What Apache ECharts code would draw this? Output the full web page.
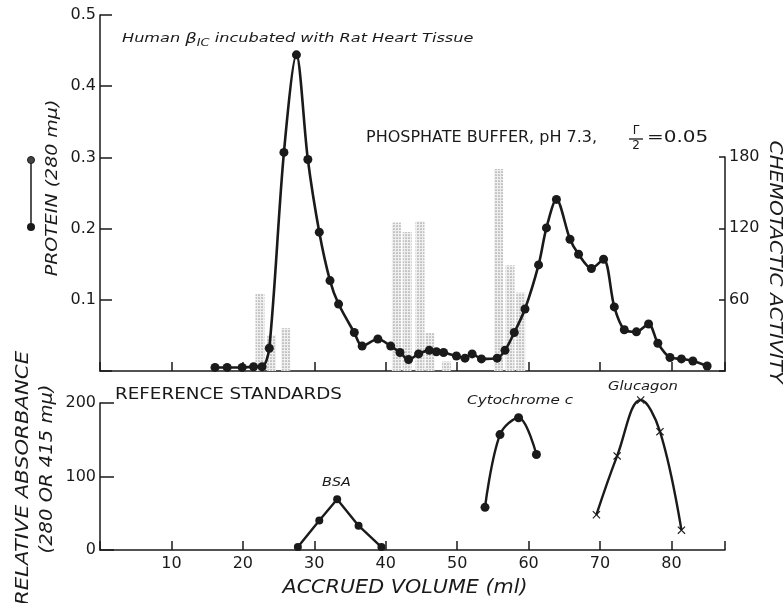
<!DOCTYPE html>
<html>
<head>
	<meta charset="utf-8">
	<title>Chemotactic activity - phosphate buffer</title>
	<script src="https://cdn.jsdelivr.net/npm/echarts@6.0.0/dist/echarts.min.js"></script>
	<style type="text/css">
		* {
			padding: 0;
			margin: 0;
		}
		#main {
			width: 784px;
			height: 603px;
			background: #fff;
		}
	</style>
</head>
<body>
	<div id="main"></div>
	<script type="text/javascript">
		// protein (280 mu) curve, top panel
		var proteinVol = [16.1, 17.8, 19.9, 21.5, 22.7, 23.7, 25.75, 27.5, 29.1, 30.7, 32.2, 33.4, 35.6, 36.7, 38.9, 40.7,
			42.0, 43.2, 44.6, 46.1, 47.1, 48.1, 49.9, 51.1, 52.1, 53.4, 55.6, 56.7, 58.0, 59.5, 61.4, 62.5,
			63.9, 65.8, 67.0, 68.8, 70.5, 72.0, 73.4, 75.1, 76.8, 78.1, 79.8, 81.4, 83.0, 85.0];
		var proteinOD = [0.005, 0.005, 0.005, 0.006, 0.006, 0.032, 0.307, 0.444, 0.297, 0.195, 0.127, 0.094, 0.054, 0.035, 0.045, 0.035,
			0.026, 0.016, 0.024, 0.029, 0.027, 0.026, 0.021, 0.018, 0.024, 0.017, 0.018, 0.029, 0.054, 0.087, 0.149, 0.201,
			0.241, 0.185, 0.164, 0.144, 0.157, 0.090, 0.058, 0.055, 0.066, 0.039, 0.019, 0.017, 0.014, 0.007];

		// chemotactic activity bars
		var activityVol = [22.4, 24.0, 26.0, 41.5, 43.0, 44.8, 46.2, 48.5, 55.8, 57.4, 58.9];
		var activityVal = [65, 30, 36, 125, 117, 126, 32, 8, 170, 89, 66];

		// reference standards, bottom panel
		var bsaVol = [27.7, 30.7, 33.2, 36.2, 39.4];
		var bsaAbs = [4, 40, 69, 33, 4];
		var cytoVol = [53.9, 56.0, 58.6, 61.1];
		var cytoAbs = [58, 157, 180, 130];
		var glucVol = [69.5, 72.4, 75.7, 78.4, 81.4];
		var glucAbs = [48, 128, 204, 161, 27];

		var ink = '#1a1a1a';
		var font = 'DejaVu Sans';

		function pairs(xs, ys) {
			return xs.map(function (x, i) { return [x, ys[i]]; });
		}

		function xAxisCfg(gridIndex, showLabels) {
			return {
				type: 'value', gridIndex: gridIndex, min: 0, max: 87.5, interval: 10,
				axisLine: { show: true, onZero: false, lineStyle: { color: ink, width: 1.5 } },
				axisTick: { show: true, inside: true, length: 9, lineStyle: { color: ink, width: 1.5 } },
				axisLabel: {
					show: showLabels, margin: 6, color: ink, fontFamily: font, fontSize: 16,
					formatter: function (v) { return (v > 0 && v % 10 === 0) ? String(v) : ''; }
				},
				splitLine: { show: false }
			};
		}

		function yAxisCfg(gridIndex, min, max, interval, tickLen, fmt) {
			return {
				type: 'value', gridIndex: gridIndex, min: min, max: max, interval: interval,
				axisLine: { show: true, onZero: false, lineStyle: { color: ink, width: 1.5 } },
				axisTick: { show: true, inside: true, length: tickLen, lineStyle: { color: ink, width: 1.5 } },
				axisLabel: { color: ink, fontFamily: font, fontSize: 16, margin: 4, formatter: fmt },
				splitLine: { show: false }
			};
		}

		// text placed by its left/centre point, stretched to the lettering's width
		function label(text, x, y, size, sx, opts) {
			opts = opts || {};
			return {
				type: 'text', x: x, y: y, scaleX: sx, rotation: opts.rotation || 0,
				style: {
					text: text, fill: ink,
					font: (opts.italic ? 'italic ' : '') + size + 'px "DejaVu Sans"',
					textAlign: opts.align || 'left', textVerticalAlign: 'middle'
				}
			};
		}

		var xMark = 'path://M0,1L1,0L5,4L9,0L10,1L6,5L10,9L9,10L5,6L1,10L0,9L4,5Z';

		var chart = echarts.init(document.getElementById('main'));
		chart.setOption({
			animation: false,
			backgroundColor: '#fff',
			grid: [
				{ left: 100, top: 15, width: 625, height: 356, outerBoundsMode: 'none' },
				{ left: 100, top: 157, width: 625, height: 214, outerBoundsMode: 'none' },
				{ left: 100, top: 403, width: 625, height: 147, outerBoundsMode: 'none' }
			],
			xAxis: [
				xAxisCfg(0, false),
				{ type: 'value', gridIndex: 1, min: 0, max: 87.5, show: false },
				xAxisCfg(2, true)
			],
			yAxis: [
				yAxisCfg(0, 0, 0.5, 0.1, 12, function (v) { return v === 0 ? '' : v.toFixed(1); }),
				(function () {
					var a = yAxisCfg(1, 0, 180, 60, 6, function (v) { return v === 0 ? '' : String(v); });
					a.position = 'right';
					return a;
				})(),
				yAxisCfg(2, 0, 200, 100, 14, function (v) { return String(v); })
			],
			series: [
				{
					type: 'bar', xAxisIndex: 1, yAxisIndex: 1, z: 1,
					barWidth: 9,
					data: pairs(activityVol, activityVal),
					itemStyle: {
						color: '#efefef',
						decal: {
							symbol: 'circle', symbolSize: 0.85, color: '#a0a0a0',
							dashArrayX: [2, 1], dashArrayY: [2, 1], rotation: 0
						}
					}
				},
				{
					type: 'line', xAxisIndex: 0, yAxisIndex: 0, z: 3,
					data: pairs(proteinVol, proteinOD),
					smooth: 0.3,
					symbol: 'circle', symbolSize: 9,
					lineStyle: { color: ink, width: 2.6 },
					itemStyle: { color: ink }
				},
				{
					type: 'line', xAxisIndex: 2, yAxisIndex: 2, clip: false,
					data: pairs(bsaVol, bsaAbs),
					symbol: 'circle', symbolSize: 8,
					lineStyle: { color: ink, width: 2.4 },
					itemStyle: { color: ink }
				},
				{
					type: 'line', xAxisIndex: 2, yAxisIndex: 2, clip: false,
					data: pairs(cytoVol, cytoAbs),
					smooth: 0.35,
					symbol: 'circle', symbolSize: 9,
					lineStyle: { color: ink, width: 2.4 },
					itemStyle: { color: ink }
				},
				{
					type: 'line', xAxisIndex: 2, yAxisIndex: 2, clip: false,
					data: pairs(glucVol, glucAbs),
					smooth: 0.4,
					symbol: xMark, symbolSize: 8,
					lineStyle: { color: ink, width: 2.4 },
					itemStyle: { color: ink }
				}
			],
			graphic: [
				{
					type: 'text', x: 122, y: 39, scaleX: 1.29,
					style: {
						text: '{t|Human }{b|\u03b2}{s|IC}{t| incubated with Rat Heart Tissue}',
						textVerticalAlign: 'middle',
						rich: {
							t: { fontFamily: font, fontSize: 12.5, fontStyle: 'italic', fill: ink },
							b: { fontFamily: font, fontSize: 14, fontStyle: 'italic', fill: ink },
							s: { fontFamily: font, fontSize: 10, fontStyle: 'italic', fill: ink, padding: [8, 0, 0, 0] }
						}
					}
				},
				label('PHOSPHATE BUFFER, pH 7.3,', 366, 138, 16, 1),
				label('\u0393', 636, 131, 12, 1, { align: 'center' }),
				{
					type: 'line', shape: { x1: 629, y1: 139, x2: 643, y2: 139 },
					style: { stroke: ink, lineWidth: 1.3 }
				},
				label('2', 636, 146, 12, 1, { align: 'center' }),
				label('=0.05', 647, 138, 16, 1.25),
				label('REFERENCE STANDARDS', 115, 395, 16.5, 1.11),
				label('BSA', 322, 483, 12, 1.2, { italic: true }),
				label('Cytochrome c', 467, 401, 12, 1.27, { italic: true }),
				label('Glucagon', 608, 387, 12, 1.23, { italic: true }),
				// axis titles
				label('PROTEIN (280 m\u03bc)', 53, 188, 16.5, 1.15, { italic: true, align: 'center', rotation: Math.PI / 2 }),
				label('CHEMOTACTIC ACTIVITY', 775, 262, 18, 1.12, { italic: true, align: 'center', rotation: -Math.PI / 2 }),
				label('RELATIVE ABSORBANCE', 23, 478, 18, 1.18, { italic: true, align: 'center', rotation: Math.PI / 2 }),
				label('(280 OR 415 m\u03bc)', 48, 469, 17, 1.15, { italic: true, align: 'center', rotation: Math.PI / 2 }),
				label('ACCRUED VOLUME (ml)', 405, 588, 19, 1.09, { italic: true, align: 'center' }),
				// protein legend key
				{
					type: 'line', shape: { x1: 31, y1: 160, x2: 31, y2: 227 },
					style: { stroke: ink, lineWidth: 1.5 }
				},
				{
					type: 'circle', shape: { cx: 31, cy: 160, r: 3.5 },
					style: { fill: '#444', stroke: ink, lineWidth: 1 }
				},
				{
					type: 'circle', shape: { cx: 31, cy: 227, r: 4 },
					style: { fill: ink }
				}
			]
		});
	</script>
</body>
</html>
